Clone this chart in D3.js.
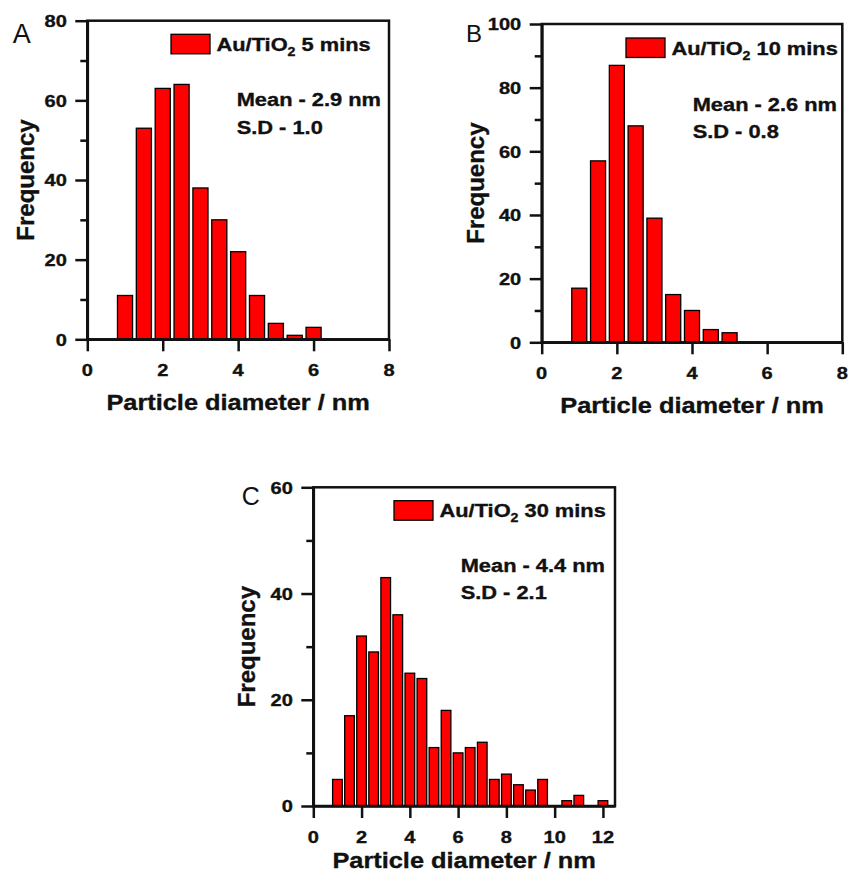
<!DOCTYPE html>
<html>
<head>
<meta charset="utf-8">
<script src="https://cdn.jsdelivr.net/npm/d3@7"></script>
<style>
  html, body { margin: 0; padding: 0; background: #fff; }
  svg { display: block; }
</style>
</head>
<body>
<svg id="chart" width="850" height="876"></svg>
<script>
// Particle size histograms of Au/TiO2 after 5, 10 and 30 minutes.
// Bin centres (nm) and counts for each sample.
const binsA = [1.0, 1.5, 2.0, 2.5, 3.0, 3.5, 4.0, 4.5, 5.0, 5.5, 6.0];
const countsA = [11, 53, 63, 64, 38, 30, 22, 11, 4, 1, 3];

const binsB = [1.0, 1.5, 2.0, 2.5, 3.0, 3.5, 4.0, 4.5, 5.0];
const countsB = [17, 57, 87, 68, 39, 15, 10, 4, 3];

const binsC = [1.0, 1.5, 2.0, 2.5, 3.0, 3.5, 4.0, 4.5, 5.0, 5.5, 6.0, 6.5,
               7.0, 7.5, 8.0, 8.5, 9.0, 9.5, 10.0, 10.5, 11.0, 11.5, 12.0];
const countsC = [5, 17, 32, 29, 43, 36, 25, 24, 11, 18, 10, 11,
                 12, 5, 6, 4, 3, 5, 0, 1, 2, 0, 1];

// Axis ticks
const xTicksAB = [0, 2, 4, 6, 8];
const xTicksC = [0, 2, 4, 6, 8, 10, 12];
const yMajorA = [0, 20, 40, 60, 80];
const yMinorA = [10, 30, 50, 70];
const yMajorB = [0, 20, 40, 60, 80, 100];
const yMinorB = [10, 30, 50, 70, 90];
const yMajorC = [0, 20, 40, 60];
const yMinorC = [10, 30, 50];

// Legend and summary text
const panels = [
  { letter: "A", bins: binsA, counts: countsA, xDomain: [0, 8], yDomain: [0, 80],
    xTicks: xTicksAB, yMajor: yMajorA, yMinor: yMinorA,
    sample: "5 mins", mean: "Mean - 2.9 nm", sd: "S.D - 1.0" },
  { letter: "B", bins: binsB, counts: countsB, xDomain: [0, 8], yDomain: [0, 100],
    xTicks: xTicksAB, yMajor: yMajorB, yMinor: yMinorB,
    sample: "10 mins", mean: "Mean - 2.6 nm", sd: "S.D - 0.8" },
  { letter: "C", bins: binsC, counts: countsC, xDomain: [0, 12.5], yDomain: [0, 60],
    xTicks: xTicksC, yMajor: yMajorC, yMinor: yMinorC,
    sample: "30 mins", mean: "Mean - 4.4 nm", sd: "S.D - 2.1" }
];

// Layout of each panel on the page
const layout = [
  { left: 87.3, right: 389, top: 20.7, bottom: 339.3, xTitleY: 410,
    letterX: 12.7, letterY: 43.3, letterSize: 27,
    legX: 171, legY: 34.3, mean: [236.7, 106, 134], yTitleX: 34 },
  { left: 541.7, right: 842.3, top: 24, bottom: 342.3, xTitleY: 413,
    letterX: 466, letterY: 41.7, letterSize: 24,
    legX: 626, legY: 38, mean: [692.7, 110.7, 138.3], yTitleX: 484 },
  { left: 313.3, right: 615, top: 487.3, bottom: 806, xTitleY: 868,
    letterX: 241.7, letterY: 505, letterSize: 25,
    legX: 394, legY: 500.7, mean: [460.7, 571.7, 599.3], yTitleX: 255 }
];

const FONT = "'Liberation Sans', Arial, Helvetica, sans-serif";
const SX = 1.18;          // horizontal stretch of the figure lettering
const INK = "#111";
const AXIS_W = 2.5;
const HEAVY = 0.35;       // extra outline that thickens the bold lettering

const svg = d3.select("#chart");

// Text with a horizontal stretch applied around its anchor point
function stretchText(g, x, y, str, size, anchor) {
  return g.append("text")
    .attr("transform", `translate(${x},${y}) scale(${SX},1)`)
    .attr("text-anchor", anchor || "start")
    .attr("font-family", FONT)
    .attr("font-weight", "bold")
    .attr("font-size", size)
    .attr("fill", INK)
    .attr("stroke", INK)
    .attr("stroke-width", HEAVY)
    .text(str);
}

panels.forEach((p, i) => {
  const L = layout[i];
  const g = svg.append("g");

  const x = d3.scaleLinear().domain(p.xDomain).range([L.left, L.right]);
  const y = d3.scaleLinear().domain(p.yDomain).range([L.bottom, L.top]);
  const binW = 0.5;
  const barW = x(binW * 0.8) - x(0);

  // Bars
  const data = p.bins.map((b, k) => ({ b, c: p.counts[k] })).filter(d => d.c > 0);
  g.append("g").selectAll("rect")
    .data(data)
    .join("rect")
    .attr("x", d => x(d.b) - barW / 2)
    .attr("y", d => y(d.c))
    .attr("width", barW)
    .attr("height", d => y(0) - y(d.c))
    .attr("fill", "#ff0000")
    .attr("stroke", "#000")
    .attr("stroke-width", 1.3);

  // Frame
  g.append("rect")
    .attr("x", L.left).attr("y", L.top)
    .attr("width", L.right - L.left).attr("height", L.bottom - L.top)
    .attr("fill", "none").attr("stroke", INK).attr("stroke-width", AXIS_W);

  // Y axis: major and minor ticks
  const yMaj = g.append("g").attr("transform", `translate(${L.left},0)`)
    .call(d3.axisLeft(y).tickValues(p.yMajor).tickSize(12).tickSizeOuter(0).tickFormat(""));
  const yMin = g.append("g").attr("transform", `translate(${L.left},0)`)
    .call(d3.axisLeft(y).tickValues(p.yMinor).tickSize(7).tickSizeOuter(0).tickFormat(""));
  // X axis
  const xAx = g.append("g").attr("transform", `translate(0,${L.bottom})`)
    .call(d3.axisBottom(x).tickValues(p.xTicks).tickSize(12).tickSizeOuter(0).tickFormat(""));
  [yMaj, yMin, xAx].forEach(a => {
    a.selectAll("path, line").attr("stroke", INK).attr("stroke-width", AXIS_W);
  });

  // Tick labels
  p.yMajor.forEach(v => stretchText(g, L.left - 20.5, y(v) + 6.2, String(v), 17, "end"));
  p.xTicks.forEach(v => stretchText(g, x(v), L.bottom + 37, String(v), 17, "middle"));

  // Axis titles
  stretchText(g, (L.left + L.right) / 2, L.xTitleY, "Particle diameter / nm", 21.5, "middle");
  g.append("text")
    .attr("transform", `translate(${L.yTitleX},${(L.top + L.bottom) / 2}) rotate(-90)`)
    .attr("text-anchor", "middle")
    .attr("font-family", FONT).attr("font-weight", "bold")
    .attr("font-size", 24).attr("fill", INK)
    .attr("stroke", INK).attr("stroke-width", HEAVY)
    .text("Frequency");

  // Panel letter
  g.append("text")
    .attr("x", L.letterX).attr("y", L.letterY)
    .attr("font-family", FONT).attr("font-size", L.letterSize)
    .attr("fill", INK).text(p.letter);

  // Legend
  g.append("rect")
    .attr("x", L.legX).attr("y", L.legY).attr("width", 39).attr("height", 19.5)
    .attr("fill", "#ff0000").attr("stroke", "#000").attr("stroke-width", 1.3);
  const lt = stretchText(g, L.legX + 45.5, L.legY + 16.5, "", 18.5, "start");
  lt.append("tspan").text("Au/TiO");
  lt.append("tspan").attr("font-size", 12).attr("dy", 5).text("2");
  lt.append("tspan").attr("dy", -5).text(" " + p.sample);

  // Mean and standard deviation
  stretchText(g, L.mean[0], L.mean[1], p.mean, 18.5, "start");
  stretchText(g, L.mean[0], L.mean[2], p.sd, 18.5, "start");
});
</script>
</body>
</html>
